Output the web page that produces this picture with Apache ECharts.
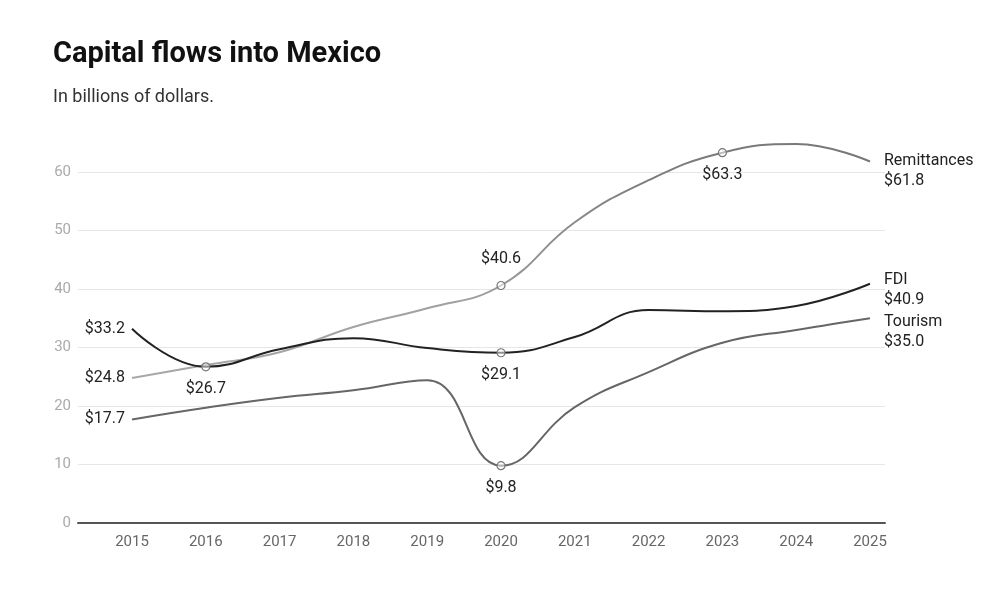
<!DOCTYPE html>
<html>
<head>
<meta charset="utf-8">
<script src="https://cdn.jsdelivr.net/npm/echarts@6/dist/echarts.min.js"></script>
<style>
  html, body { margin: 0; padding: 0; background: #fff; }
  #chart { width: 1000px; height: 600px; }
</style>
</head>
<body>
<div id="chart"></div>
<script>
var years = ["2015", "2016", "2017", "2018", "2019", "2020", "2021", "2022", "2023", "2024", "2025"];
var remittances = [24.8, 27.0, 29.2, 33.5, 36.7, 40.6, 51.4, 58.6, 63.3, 64.8, 61.8];
var fdi = [33.2, 26.7, 29.7, 31.6, 29.9, 29.1, 31.8, 36.4, 36.2, 37.1, 40.9];
var tourism = [17.7, 19.7, 21.4, 22.7, 24.4, 9.8, 19.8, 25.8, 30.8, 33.0, 35.0];

// which points get a circle + value label, and where the label goes
var remitMarks = { 5: "top", 8: "bottom" };
var fdiMarks = { 1: "bottom", 5: "bottom" };
var tourismMarks = { 5: "bottom" };

var labelFont = { color: "#222", fontSize: 16, fontFamily: "Roboto" };

function money(v) {
  return "$" + v.toFixed(1);
}

function buildData(name, values, marks, endOffset) {
  var last = values.length - 1;
  return values.map(function (v, i) {
    var item = { value: v };
    if (marks[i]) {
      item.symbolSize = 8;
      item.itemStyle = { color: "rgba(255,255,255,0.5)", borderColor: "#777", borderWidth: 1.2 };
      item.label = Object.assign({
        show: true, position: marks[i], distance: marks[i] === "top" ? 14 : 10, formatter: money(v)
      }, labelFont);
    }
    if (i === 0) {
      item.label = Object.assign({ show: true, position: "left", distance: 7, formatter: money(v) }, labelFont);
    }
    if (i === last) {
      item.label = Object.assign({
        show: true, position: "right", distance: 14, offset: [0, endOffset],
        lineHeight: 20, formatter: name + "\n" + money(v)
      }, labelFont);
    }
    return item;
  });
}

function makeSeries(name, values, marks, color, endOffset) {
  return {
    name: name,
    type: "line",
    xAxisIndex: 1,
    yAxisIndex: 1,
    smooth: 0.45,
    symbol: "circle",
    symbolSize: 0,
    showSymbol: true,
    lineStyle: { color: color, width: 2 },
    itemStyle: { color: "#777" },
    data: buildData(name, values, marks, endOffset),
    z: 3
  };
}

var remitColor = new echarts.graphic.LinearGradient(0, 0, 1, 0, [
  { offset: 0, color: "#a8a8a8" },
  { offset: 0.45, color: "#a0a0a0" },
  { offset: 0.7, color: "#7c7c7c" },
  { offset: 1, color: "#777" }
]);

var chart = echarts.init(document.getElementById("chart"));
chart.setOption({
  animation: false,
  backgroundColor: "#fff",
  title: [
    {
      text: "Capital flows into Mexico",
      left: 53, top: 40, padding: 0,
      textStyle: { fontFamily: "Roboto", fontWeight: "bold", fontSize: 29, color: "#111" }
    },
    {
      text: "In billions of dollars.",
      left: 53, top: 88, padding: 0,
      textStyle: { fontFamily: "Roboto", fontWeight: "normal", fontSize: 18, color: "#333" }
    }
  ],
  grid: [
    { left: 78, right: 115, top: 172, bottom: 77 },
    { left: 132, right: 130, top: 113.5, bottom: 77 }
  ],
  xAxis: [
    {
      gridIndex: 0, type: "value", min: 0, max: 1,
      axisLine: { show: true, lineStyle: { color: "#555", width: 2 } },
      axisTick: { show: false }, axisLabel: { show: false }, splitLine: { show: false }
    },
    {
      gridIndex: 1, type: "category", data: years, boundaryGap: false,
      axisLine: { show: false }, axisTick: { show: false },
      axisLabel: { color: "#666", fontSize: 15, fontFamily: "Roboto", margin: 12 }
    }
  ],
  yAxis: [
    {
      gridIndex: 0, type: "value", min: 0, max: 60, interval: 10,
      axisLine: { show: false }, axisTick: { show: false },
      axisLabel: { color: "#aaa", fontSize: 15, fontFamily: "Roboto", margin: 7 },
      splitLine: { lineStyle: { color: "#e6e6e6", width: 1 } }
    },
    { gridIndex: 1, type: "value", min: 0, max: 70, show: false }
  ],
  series: [
    makeSeries("Remittances", remittances, remitMarks, remitColor, 10),
    makeSeries("Tourism", tourism, tourismMarks, "#666", 14),
    makeSeries("FDI", fdi, fdiMarks, "#222", 6)
  ]
});
</script>
</body>
</html>
